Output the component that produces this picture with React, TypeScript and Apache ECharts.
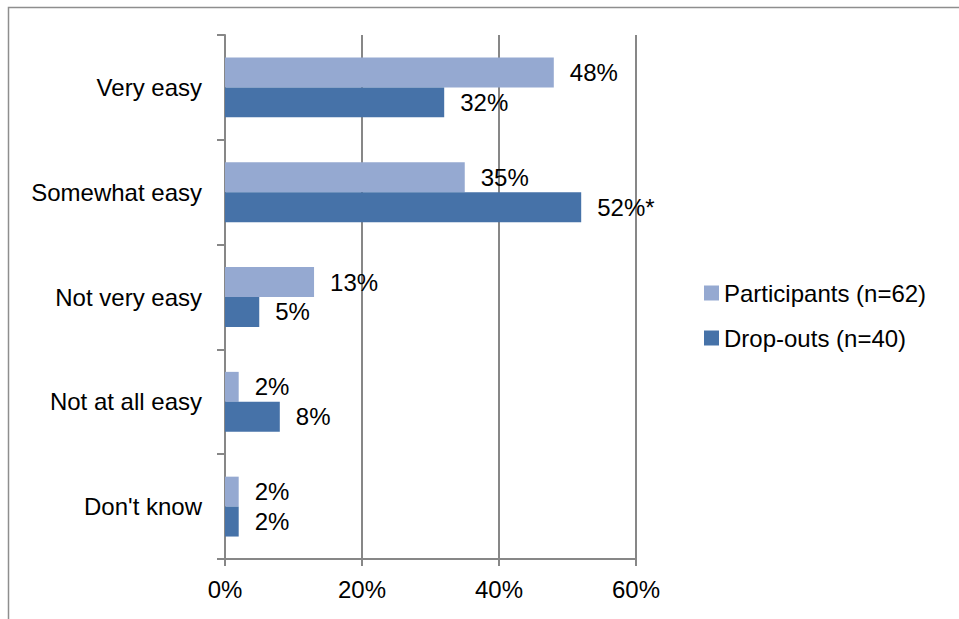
import React, { useEffect, useRef } from "react";
import * as echarts from "echarts";

const categories = ["Very easy", "Somewhat easy", "Not very easy", "Not at all easy", "Don't know"];
const participants = [48, 35, 13, 2, 2];
const dropouts = [32, 52, 5, 8, 2];
const dropoutNotes = ["", "*", "", "", ""];
const seriesNames = ["Participants (n=62)", "Drop-outs (n=40)"];
const xTicks = { min: 0, max: 60, interval: 20 };

const FONT = "'Liberation Sans', Arial, sans-serif";
const FS = 24;
const GRAY = "#878787";

export default function App() {
  const ref = useRef<HTMLDivElement>(null);
  useEffect(() => {
    if (!ref.current) return;
    const chart = echarts.init(ref.current, undefined, { renderer: "svg" });
    chart.setOption({
      animation: false,
      backgroundColor: "#ffffff",
      textStyle: { fontFamily: FONT },
      graphic: [
        {
          type: "rect",
          shape: { x: 8.5, y: 7.5, width: 1200, height: 1200 },
          style: { fill: "none", stroke: "#8e8e8e", lineWidth: 1.5 },
          silent: true,
        },
      ],
      grid: { left: 225, right: 323, top: 35, bottom: 60, containLabel: false },
      legend: {
        orient: "vertical",
        left: 704,
        top: 281,
        padding: 0,
        itemWidth: 15,
        itemHeight: 15,
        itemGap: 21,
        icon: "rect",
        textStyle: { fontSize: FS, color: "#000", fontFamily: FONT },
        data: seriesNames,
      },
      xAxis: {
        type: "value",
        min: xTicks.min,
        max: xTicks.max,
        interval: xTicks.interval,
        axisLine: { show: true, lineStyle: { color: GRAY, width: 2 } },
        axisTick: { show: true, length: 7, lineStyle: { color: GRAY, width: 2 } },
        splitLine: { show: true, lineStyle: { color: GRAY, width: 2 } },
        axisLabel: {
          formatter: "{value}%",
          fontSize: FS,
          color: "#000",
          margin: 18,
          fontFamily: FONT,
        },
      },
      yAxis: {
        type: "category",
        data: categories,
        inverse: true,
        axisLine: { show: true, lineStyle: { color: GRAY, width: 2 } },
        axisTick: { show: true, length: 8, lineStyle: { color: GRAY, width: 2 } },
        axisLabel: { fontSize: FS, color: "#000", margin: 23, fontFamily: FONT },
      },
      series: [
        {
          name: seriesNames[0],
          type: "bar",
          data: participants,
          barGap: "0%",
          barCategoryGap: "42.86%",
          itemStyle: { color: "#95A9D1" },
          label: {
            show: true,
            position: "right",
            distance: 16,
            fontSize: FS,
            color: "#000",
            fontFamily: FONT,
            formatter: (p: any) => `${p.value}%`,
          },
        },
        {
          name: seriesNames[1],
          type: "bar",
          data: dropouts,
          barGap: "0%",
          barCategoryGap: "42.86%",
          itemStyle: { color: "#4672A8" },
          label: {
            show: true,
            position: "right",
            distance: 16,
            fontSize: FS,
            color: "#000",
            fontFamily: FONT,
            formatter: (p: any) => `${p.value}%${dropoutNotes[p.dataIndex]}`,
          },
        },
      ],
    });
    return () => chart.dispose();
  }, []);
  return (
    <div
      ref={ref}
      style={{ position: "fixed", left: 0, top: 0, width: 959, height: 619, background: "#fff" }}
    />
  );
}
